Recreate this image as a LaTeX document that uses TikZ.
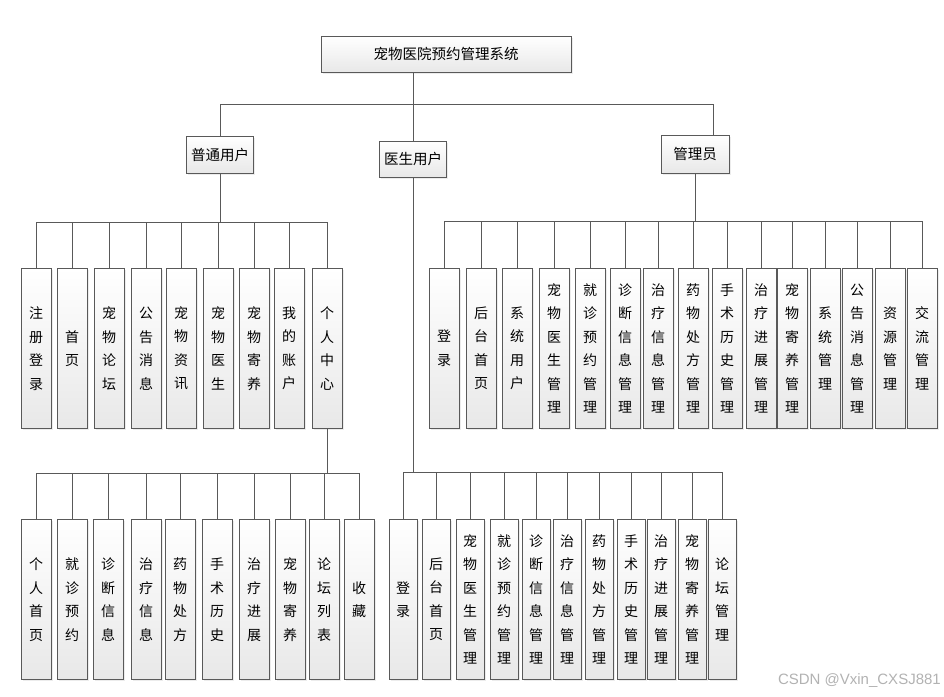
\documentclass[tikz,border=0pt]{standalone}
\usepackage{fontspec}
\setmainfont{Noto Sans CJK SC}
\newfontfamily\wmfont{Liberation Sans}
\usetikzlibrary{shadows}
\begin{document}
\begin{tikzpicture}[x=1pt,y=-1pt,
  box/.style={draw=black!65, line width=0.9pt, top color=white, bottom color=black!9,
    drop shadow={opacity=0.15, shadow xshift=1.5pt, shadow yshift=-1.5pt},
    inner sep=0pt, align=center},
  hbox/.style={box, font=\fontsize{14.5}{16}\selectfont},
  vbox/.style={box, anchor=north, minimum width=30pt, minimum height=160pt,
    font=\fontsize{14}{23.5}\selectfont},
  dbox/.style={vbox, minimum width=28pt},
  conn/.style={draw=black!65, line width=0.9pt}]
\useasboundingbox (0,0) rectangle (944,696);

% top level
\node[hbox, minimum width=250pt, minimum height=36pt] (root) at (446,54) {宠物医院预约管理系统};
\node[hbox, minimum width=67pt, minimum height=37pt] (pu) at (220,154.5) {普通用户};
\node[hbox, minimum width=67pt, minimum height=36pt] (ys) at (413,159) {医生用户};
\node[hbox, minimum width=68pt, minimum height=38pt] (gl) at (695,154) {管理员};

\coordinate (glin) at (713,104);
\draw[conn] (root.south -| ys.north) -- (ys.north);
\draw[conn] (pu.north) |- (glin) -- (glin |- gl.north);

% bar levels
\coordinate (ubar) at (0,222);
\coordinate (abar) at (0,221);
\coordinate (lbar) at (0,473);
\coordinate (dbar) at (0,472);

% ordinary user row
\foreach \i/\x/\t in {1/36/注\\册\\登\\录, 2/72/首\\页, 3/109/宠\\物\\论\\坛, 4/146/公\\告\\消\\息,
  5/181/宠\\物\\资\\讯, 6/218/宠\\物\\医\\生, 7/254/宠\\物\\寄\\养, 8/289/我\\的\\账\\户, 9/327/个\\人\\中\\心}{
  \node[vbox] (u\i) at (\x,268) {\t};
  \draw[conn] (u\i.north) -- (u\i.north |- ubar);
}
\draw[conn] (u1.north |- ubar) -- (u9.north |- ubar);
\draw[conn] (pu.south) -- (pu.south |- ubar);

% personal center row
\foreach \i/\x/\t in {1/36/个\\人\\首\\页, 2/72/就\\诊\\预\\约, 3/108/诊\\断\\信\\息, 4/146/治\\疗\\信\\息,
  5/180/药\\物\\处\\方, 6/217/手\\术\\历\\史, 7/254/治\\疗\\进\\展, 8/290/宠\\物\\寄\\养,
  9/324/论\\坛\\列\\表, 10/359/收\\藏}{
  \node[vbox] (l\i) at (\x,519) {\t};
  \draw[conn] (l\i.north) -- (l\i.north |- lbar);
}
\draw[conn] (l1.north |- lbar) -- (l10.north |- lbar);
\draw[conn] (u9.south) -- (u9.south |- lbar);

% doctor row
\foreach \i/\x/\t in {1/403/登\\录, 2/436/后\\台\\首\\页, 3/470/宠\\物\\医\\生\\管\\理, 4/504/就\\诊\\预\\约\\管\\理,
  5/536/诊\\断\\信\\息\\管\\理, 6/567/治\\疗\\信\\息\\管\\理, 7/599/药\\物\\处\\方\\管\\理, 8/631/手\\术\\历\\史\\管\\理,
  9/661/治\\疗\\进\\展\\管\\理, 10/692/宠\\物\\寄\\养\\管\\理, 11/722/论\\坛\\管\\理}{
  \node[dbox] (d\i) at (\x,519) {\t};
  \draw[conn] (d\i.north) -- (d\i.north |- dbar);
}
\draw[conn] (d1.north |- dbar) -- (d11.north |- dbar);
\draw[conn] (ys.south) -- (ys.south |- dbar);

% admin row
\foreach \i/\x/\t in {1/444/登\\录, 2/481/后\\台\\首\\页, 3/517/系\\统\\用\\户, 4/554/宠\\物\\医\\生\\管\\理,
  5/590/就\\诊\\预\\约\\管\\理, 6/625/诊\\断\\信\\息\\管\\理, 7/658/治\\疗\\信\\息\\管\\理, 8/693/药\\物\\处\\方\\管\\理,
  9/727/手\\术\\历\\史\\管\\理, 10/761/治\\疗\\进\\展\\管\\理, 11/792/宠\\物\\寄\\养\\管\\理, 12/825/系\\统\\管\\理,
  13/857/公\\告\\消\\息\\管\\理, 14/890/资\\源\\管\\理, 15/922/交\\流\\管\\理}{
  \node[vbox] (a\i) at (\x,268) {\t};
  \draw[conn] (a\i.north) -- (a\i.north |- abar);
}
\draw[conn] (a1.north |- abar) -- (a15.north |- abar);
\draw[conn] (gl.south) -- (gl.south |- abar);

% watermark
\node[anchor=east, text=black!30, inner sep=0pt, font=\wmfont\fontsize{15}{15}\selectfont] (wm) at (941,681) {CSDN @Vxin\_CXSJ881};
\end{tikzpicture}
\end{document}
